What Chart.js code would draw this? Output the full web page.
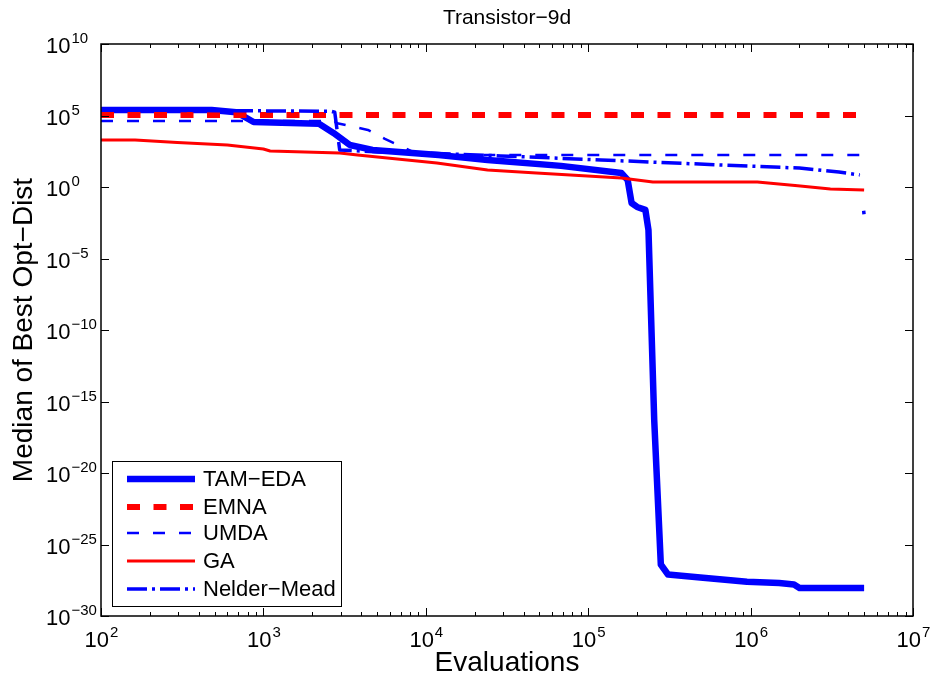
<!DOCTYPE html>
<html lang="en">
<head>
<meta charset="UTF-8">
<title>Transistor-9d</title>
<script src="https://cdn.jsdelivr.net/npm/chart.js"></script>
<style>
    html, body { margin: 0; padding: 0; background: #fff; }
    #chart { display: block; }
</style>
</head>
<body>
<canvas id="chart" width="938" height="685"></canvas>
<script>
// data (x = evaluations, y = median of best opt-dist)
const tamX = [100, 480, 680, 870, 2200, 2700, 3400, 4700, 1.2e4, 2.4e4, 6.8e4, 1.6e5, 1.75e5, 1.85e5, 2.0e5, 2.25e5, 2.35e5, 2.55e5, 2.8e5, 3.1e5, 4.9e5, 9.5e5, 1.5e6, 1.85e6, 2.0e6, 5e6];
const tamY = [2.4e5, 2.4e5, 1.7e5, 3.5e4, 2.6e4, 6e3, 870, 390, 170, 78, 30, 9.5, 3.1, 0.076, 0.04, 0.025, 1e-3, 5e-17, 4e-27, 8e-28, 5e-28, 2.5e-28, 2e-28, 1.6e-28, 9e-29, 9e-29];

const emnaX = [100, 5e6];
const emnaY = [1.1e5, 1.1e5];

const umdaX = [100, 2750, 2800, 4400, 5600, 7400, 9100, 5e6];
const umdaY = [4.2e4, 4.2e4, 3e4, 9.8e3, 2.3e3, 540, 175, 175];

const gaX = [100, 162, 295, 600, 1000, 1100, 2950, 3800, 1.17e4, 2.4e4, 4.8e4, 1.6e5, 2.5e5, 1.1e6, 1.95e6, 3.1e6, 5e6];
const gaY = [1950, 1950, 1300, 870, 450, 330, 240, 175, 48, 15.5, 9.5, 4.3, 2.2, 2.2, 1.2, 0.72, 0.62];

const nmX = [100, 2600, 2750, 2950, 5200, 1e4, 2.9e4, 1.2e5, 2.4e5, 6.5e5, 2e6, 3.5e6, 4.7e6, 5e6];
const nmY = [2.4e5, 2e5, 1.7e5, 390, 280, 240, 150, 78, 56, 35, 21, 11, 7, 0.011];

const xTickExps = [2, 3, 4, 5, 6, 7];
const yTickExps = [10, 5, 0, -5, -10, -15, -20, -25, -30];

const BLUE = '#0000ff';
const RED = '#ff0000';
const FONT = '"Liberation Sans", Arial, Helvetica, sans-serif';

function pts(xs, ys) {
    return xs.map((x, i) => ({ x: x, y: ys[i] }));
}

const series = [
    { label: 'TAM\u2212EDA', xs: tamX, ys: tamY, color: BLUE, width: 6.5, dash: [] },
    { label: 'EMNA', xs: emnaX, ys: emnaY, color: RED, width: 6, dash: [13, 13.5] },
    { label: 'UMDA', xs: umdaX, ys: umdaY, color: BLUE, width: 2.5, dash: [12, 14] },
    { label: 'GA', xs: gaX, ys: gaY, color: RED, width: 3, dash: [] },
    { label: 'Nelder\u2212Mead', xs: nmX, ys: nmY, color: BLUE, width: 3.5, dash: [20, 5, 3, 5] }
];

// 10^n with a raised exponent
function drawPow(ctx, exp, x, y, align) {
    const base = '10';
    const e = String(exp).replace('-', '\u2212');
    ctx.font = '22px ' + FONT;
    const w1 = ctx.measureText(base).width;
    ctx.font = '15px ' + FONT;
    const w2 = ctx.measureText(e).width;
    let x0 = x;
    if (align === 'center') x0 = x - (w1 + w2) / 2;
    ctx.textAlign = 'left';
    ctx.textBaseline = 'alphabetic';
    ctx.font = '22px ' + FONT;
    ctx.fillText(base, x0, y);
    ctx.font = '15px ' + FONT;
    ctx.fillText(e, x0 + w1 + 1, y - 10);
}

const decorations = {
    id: 'decorations',
    afterDraw(chart) {
        const ctx = chart.ctx;
        const a = chart.chartArea;
        const xs = chart.scales.x;
        const ys = chart.scales.y;
        ctx.save();
        ctx.fillStyle = '#000';
        ctx.strokeStyle = '#000';

        // ticks, inside, on all four sides
        ctx.lineWidth = 1;
        ctx.beginPath();
        for (let k = 2; k <= 7; k++) {
            for (let m = 1; m <= 9; m++) {
                if (k === 7 && m > 1) break;
                const px = Math.round(xs.getPixelForValue(m * Math.pow(10, k))) + 0.5;
                const len = m === 1 ? 8 : 4;
                ctx.moveTo(px, a.bottom); ctx.lineTo(px, a.bottom - len);
                ctx.moveTo(px, a.top); ctx.lineTo(px, a.top + len);
            }
        }
        yTickExps.forEach(k => {
            const py = Math.round(ys.getPixelForValue(Math.pow(10, k))) + 0.5;
            ctx.moveTo(a.left, py); ctx.lineTo(a.left + 8, py);
            ctx.moveTo(a.right, py); ctx.lineTo(a.right - 8, py);
        });
        ctx.stroke();

        // box
        ctx.lineWidth = 1.5;
        ctx.strokeRect(a.left, a.top, a.right - a.left, a.bottom - a.top);

        // tick labels
        xTickExps.forEach(k => {
            drawPow(ctx, k, xs.getPixelForValue(Math.pow(10, k)), a.bottom + 31, 'center');
        });
        yTickExps.forEach(k => {
            drawPow(ctx, k, 46, ys.getPixelForValue(Math.pow(10, k)) + 9, 'left');
        });

        // title and axis titles
        ctx.textAlign = 'center';
        ctx.textBaseline = 'middle';
        ctx.font = '21px ' + FONT;
        ctx.fillText('Transistor\u22129d', (a.left + a.right) / 2, 18);
        ctx.font = '28px ' + FONT;
        ctx.fillText('Evaluations', (a.left + a.right) / 2, 663);
        ctx.save();
        ctx.translate(24, (a.top + a.bottom) / 2);
        ctx.rotate(-Math.PI / 2);
        ctx.fillText('Median of Best Opt\u2212Dist', 0, 0);
        ctx.restore();

        // legend
        const lx = 112, ly = 461, lw = 229, lh = 145;
        ctx.fillStyle = '#fff';
        ctx.fillRect(lx, ly, lw, lh);
        ctx.lineWidth = 1;
        ctx.strokeStyle = '#000';
        ctx.strokeRect(lx + 0.5, ly + 0.5, lw, lh);
        const rows = [479, 507, 533, 561, 589];
        series.forEach((s, i) => {
            ctx.beginPath();
            ctx.strokeStyle = s.color;
            ctx.lineWidth = s.width;
            ctx.setLineDash(s.dash);
            ctx.lineCap = 'butt';
            ctx.moveTo(127, rows[i]);
            ctx.lineTo(195, rows[i]);
            ctx.stroke();
            ctx.setLineDash([]);
            ctx.fillStyle = '#000';
            ctx.font = '22px ' + FONT;
            ctx.textAlign = 'left';
            ctx.textBaseline = 'middle';
            ctx.fillText(s.label, 203, rows[i] + 1);
        });
        ctx.restore();
    }
};

const lastNm = nmX.length - 1;

new Chart(document.getElementById('chart'), {
    type: 'line',
    data: {
        datasets: series.map((s, i) => ({
            label: s.label,
            data: pts(s.xs, s.ys),
            borderColor: s.color,
            borderWidth: s.width,
            borderDash: s.dash,
            borderCapStyle: 'butt',
            borderJoinStyle: 'round',
            pointRadius: 0,
            tension: 0,
            fill: false,
            order: series.length - i,
            // the final Nelder-Mead drop falls in a gap of the dash pattern
            segment: i === 4 ? {
                borderDash: c => c.p1DataIndex === lastNm ? [0.1, 36, 3.5, 20] : undefined
            } : undefined
        }))
    },
    options: {
        responsive: false,
        animation: false,
        devicePixelRatio: 1,
        layout: { padding: { left: 101, top: 44, right: 25, bottom: 69 } },
        scales: {
            x: { type: 'logarithmic', min: 1e2, max: 1e7, display: false },
            y: { type: 'logarithmic', min: 1e-30, max: 1e10, display: false }
        },
        plugins: {
            legend: { display: false },
            title: { display: false },
            tooltip: { enabled: false }
        }
    },
    plugins: [decorations]
});
</script>
</body>
</html>
